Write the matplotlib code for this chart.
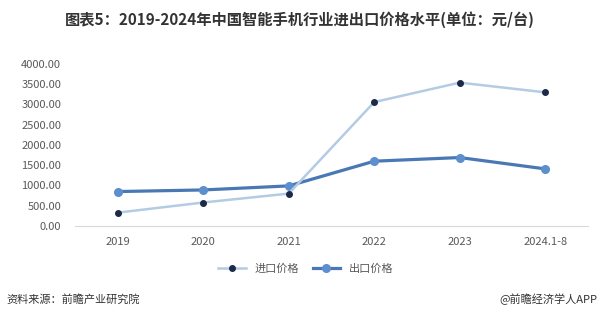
import numpy as np
import matplotlib.pyplot as plt

plt.rcParams['font.family'] = ['Noto Sans CJK SC', 'DejaVu Sans']

years = ['2019', '2020', '2021', '2022', '2023', '2024.1-8']
import_price = [330, 580, 800, 3060, 3540, 3300]
export_price = [850, 890, 990, 1600, 1690, 1410]

fig = plt.figure(figsize=(6, 3.24), dpi=100)
ax = fig.add_axes([0.125, 0.3025, 0.855, 0.5])

x = np.arange(len(years))
ax.plot(x, import_price, color='#b4cbe4', linewidth=1.8, marker='o',
        markersize=4, markerfacecolor='#1c2a48', markeredgecolor='#1c2a48',
        label='进口价格', zorder=3)
ax.plot(x, export_price, color='#4a78b5', linewidth=2.3, marker='o',
        markersize=5.5, markerfacecolor='#5d8fcf', markeredgecolor='#5d8fcf',
        label='出口价格', zorder=2)

ax.set_xlim(-0.5, len(years) - 0.5)
ax.set_ylim(0, 4000)
ax.set_yticks(np.arange(0, 4001, 500))
ax.set_yticklabels(['%.2f' % v for v in np.arange(0, 4001, 500)])
ax.set_xticks(x)
ax.set_xticklabels(years)
ax.tick_params(axis='both', length=0, labelsize=8, colors='#595959')
ax.tick_params(axis='x', pad=8)
ax.tick_params(axis='y', pad=10)
for side in ['top', 'right', 'left']:
    ax.spines[side].set_visible(False)
ax.spines['bottom'].set_color('#d9d9d9')

ax.legend(loc='upper center', bbox_to_anchor=(0.45, -0.17), ncol=2,
          frameon=False, fontsize=8, handlelength=2.5, columnspacing=1.2,
          labelcolor='#595959')

fig.text(0.5, 0.938, '图表5：2019-2024年中国智能手机行业进出口价格水平(单位：元/台)',
         ha='center', va='center', fontsize=11, fontweight='bold', color='#333333')
fig.text(0.01, 0.077, '资料来源：前瞻产业研究院', ha='left', va='center',
         fontsize=8, color='#333333')
fig.text(0.995, 0.077, '@前瞻经济学人APP', ha='right', va='center',
         fontsize=8, color='#333333')

fig.savefig('out.png', dpi=100)
